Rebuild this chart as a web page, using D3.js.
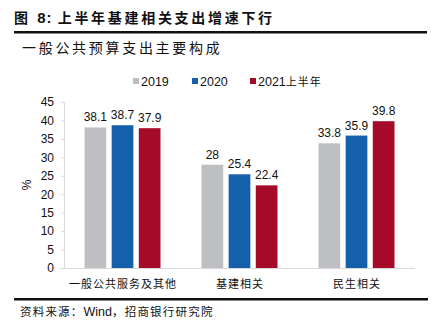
<!DOCTYPE html>
<html>
<head>
<meta charset="utf-8">
<script src="https://cdn.jsdelivr.net/npm/d3@7"></script>
<style>
  body { margin: 0; background: #fff; }
  svg { display: block; }
  .cjk { font-family: "Noto Sans CJK SC", sans-serif; }
  .num { font-family: "Liberation Sans", Arial, sans-serif; }
</style>
</head>
<body>
<svg id="chart" width="431" height="324"></svg>
<script>
// data
const categories = ['一般公共服务及其他', '基建相关', '民生相关'];
const series = ['2019', '2020', '2021上半年'];
const values_2019 = [38.1, 28, 33.8];
const values_2020 = [38.7, 25.4, 35.9];
const values_2021h1 = [37.9, 22.4, 39.8];
const y_ticks = [0, 5, 10, 15, 20, 25, 30, 35, 40, 45];
const colors = ['#BEBFC3', '#1460AB', '#A50A28'];

const all_values = [values_2019, values_2020, values_2021h1];

const svg = d3.select('#chart');
const ink = '#111';

// header
const title = svg.append('text')
  .attr('x', 14).attr('y', 23)
  .attr('font-size', 14).attr('font-weight', 'bold')
  .attr('fill', ink);
title.append('tspan').attr('class', 'cjk').attr('letter-spacing', 3).text('图 ');
title.append('tspan').attr('class', 'num').attr('font-size', 15).attr('letter-spacing', 1).text('8: ');
title.append('tspan').attr('class', 'cjk').attr('letter-spacing', 2.7).text('上半年基建相关支出增速下行');

svg.append('rect')
  .attr('x', 14).attr('y', 31)
  .attr('width', 413).attr('height', 2.5)
  .attr('fill', ink);

svg.append('text')
  .attr('class', 'cjk')
  .attr('x', 22).attr('y', 53)
  .attr('font-size', 14)
  .attr('letter-spacing', 2.7)
  .attr('fill', ink)
  .text('一般公共预算支出主要构成');

// scales
const plot_left = 64, plot_right = 415, plot_top = 102, plot_bottom = 268;
const x = d3.scaleBand().domain(categories).range([plot_left, plot_right]);
const xs = d3.scaleBand().domain(series).range([-38, 38]).paddingInner(0.2);
const y = d3.scaleLinear().domain([0, 45]).range([plot_bottom, plot_top]);

// y axis
const yAxis = svg.append('g')
  .attr('transform', `translate(${plot_left},0)`)
  .call(d3.axisLeft(y).tickValues(y_ticks).tickSize(3).tickPadding(7));
yAxis.select('.domain').attr('stroke', '#d9d9d9');
yAxis.selectAll('.tick line').attr('stroke', '#d9d9d9');
yAxis.selectAll('.tick text')
  .attr('class', 'num')
  .attr('font-size', 12)
  .attr('fill', ink);

// x axis line
svg.append('line')
  .attr('x1', plot_left - 4).attr('x2', plot_right)
  .attr('y1', plot_bottom + 0.5).attr('y2', plot_bottom + 0.5)
  .attr('stroke', '#d9d9d9');

svg.append('text')
  .attr('class', 'num')
  .attr('transform', `translate(31,${(plot_top + plot_bottom) / 2}) rotate(-90)`)
  .attr('text-anchor', 'middle')
  .attr('font-size', 12)
  .attr('fill', ink)
  .text('%');

// bars
series.forEach((s, i) => {
  const g = svg.append('g');
  g.selectAll('rect')
    .data(all_values[i])
    .enter()
    .append('rect')
    .attr('x', (d, j) => x(categories[j]) + x.bandwidth() / 2 + xs(s))
    .attr('y', d => y(d))
    .attr('width', xs.bandwidth())
    .attr('height', d => plot_bottom - y(d))
    .attr('fill', colors[i]);

  g.selectAll('text')
    .data(all_values[i])
    .enter()
    .append('text')
    .attr('class', 'num')
    .attr('x', (d, j) => x(categories[j]) + x.bandwidth() / 2 + xs(s) + xs.bandwidth() / 2)
    .attr('y', d => y(d) - 6)
    .attr('text-anchor', 'middle')
    .attr('font-size', 12)
    .attr('fill', ink)
    .text(d => d);
});

// category labels
svg.selectAll('.cat')
  .data(categories)
  .enter()
  .append('text')
  .attr('class', 'cjk')
  .attr('x', d => x(d) + x.bandwidth() / 2 + 0.5)
  .attr('y', 288)
  .attr('text-anchor', 'middle')
  .attr('font-size', 11)
  .attr('letter-spacing', 1)
  .attr('fill', ink)
  .text(d => d);

// legend
const legend_x = [133, 192, 250];
series.forEach((s, i) => {
  svg.append('rect')
    .attr('x', legend_x[i]).attr('y', 78)
    .attr('width', 6).attr('height', 6)
    .attr('fill', colors[i]);
  svg.append('text')
    .attr('class', 'num')
    .attr('x', legend_x[i] + 8).attr('y', 85.5)
    .attr('font-size', 12.5)
    .attr('fill', ink)
    .text(s.replace('上半年', ''))
    .append('tspan')
    .attr('class', 'cjk')
    .attr('font-size', 11)
    .attr('letter-spacing', 1)
    .text(s.includes('上半年') ? '上半年' : '');
});

// footer
svg.append('rect')
  .attr('x', 14).attr('y', 298)
  .attr('width', 414).attr('height', 2.5)
  .attr('fill', ink);

const src = svg.append('text')
  .attr('x', 20).attr('y', 316)
  .attr('font-size', 11.5)
  .attr('fill', ink);
src.append('tspan').attr('class', 'cjk').attr('letter-spacing', 1.2).text('资料来源：');
src.append('tspan').attr('class', 'num').attr('font-size', 12.5).text('Wind');
src.append('tspan').attr('class', 'cjk').attr('letter-spacing', 1.2).text('，招商银行研究院');
</script>
</body>
</html>
